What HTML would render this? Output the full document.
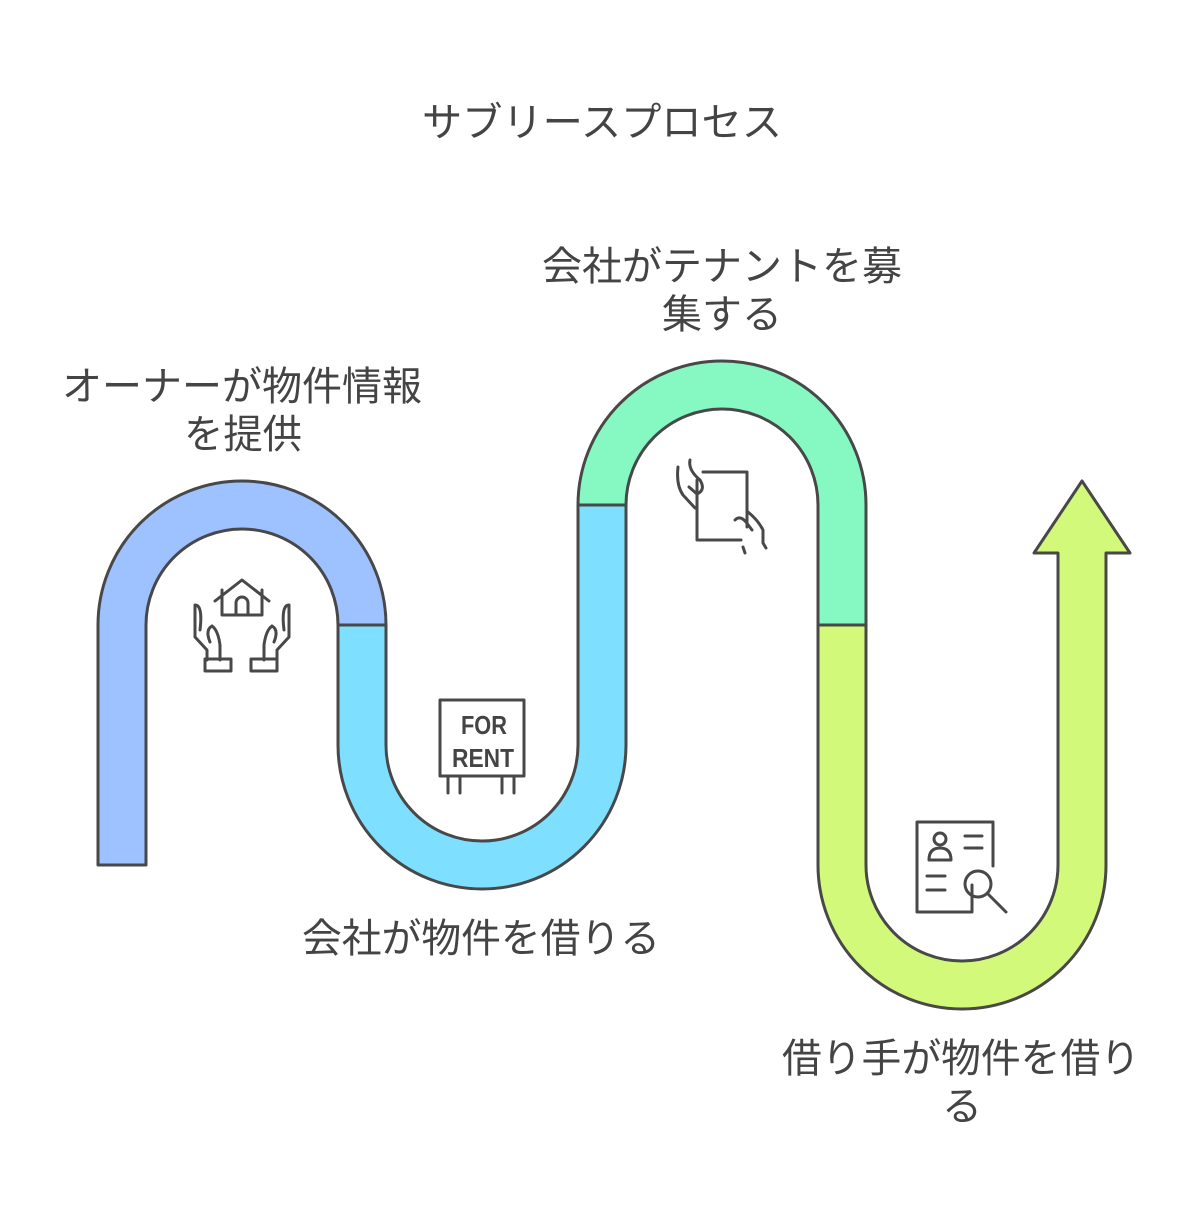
<!DOCTYPE html>
<html><head><meta charset="utf-8"><style>
body{margin:0;background:#fff;}
svg{display:block}
text{font-family:"Liberation Sans","Noto Sans CJK JP",sans-serif;fill:#444;}
</style></head><body>
<svg width="1204" height="1229" viewBox="0 0 1204 1229" xmlns="http://www.w3.org/2000/svg">
<g stroke="#484848" stroke-width="3" stroke-linejoin="round">
<path d="M98 865 L98 625 A144 144 0 0 1 386 625 L338 625 A96 96 0 0 0 146 625 L146 865 Z" fill="#9ec1ff"/>
<path d="M338 625 L386 625 L386 745 A96 96 0 0 0 578 745 L578 505 L626 505 L626 745 A144 144 0 0 1 338 745 Z" fill="#7fdfff"/>
<path d="M578 505 A144 144 0 0 1 866 505 L866 625 L818 625 L818 505 A96 96 0 0 0 626 505 Z" fill="#86f9c2"/>
<path d="M818 625 L866 625 L866 865 A96 96 0 0 0 1058 865 L1058 553 L1034 553 L1082 481 L1130 553 L1106 553 L1106 865 A144 144 0 0 1 818 865 Z" fill="#d2f97a"/>
</g>
<g fill="none" stroke="#484848" stroke-width="3" stroke-linecap="round" stroke-linejoin="round">
<path d="M215 601 L242 580 L269 601"/>
<path d="M222 590 L222 615 L262 615 L262 590"/>
<path d="M236 615 L236 603 A6 6 0 0 1 248 603 L248 615"/>
<path d="M195 605 L195 637 L207 650 L207 660 M195 605 Q203 605 200 630 M212 626 Q218 630 220 645 L220 660 M212 626 Q205 630 210 642"/>
<rect x="205" y="659" width="26" height="12"/>
<path d="M289 605 L289 637 L277 650 L277 660 M289 605 Q281 605 284 630 M272 626 Q266 630 264 645 L264 660 M272 626 Q279 630 274 642"/>
<rect x="251" y="659" width="26" height="12"/>
<rect x="440" y="700" width="84" height="76"/>
<path d="M448 776 L448 793 M460 776 L460 793 M502 776 L502 793 M514 776 L514 793"/>
<path d="M703 472 L747 472 L747 527 M741 540 L697 540 L697 480"/>
<path d="M678 467 Q676 485 683 495 L695 508 M690 460 Q688 470 700 480 Q706 490 697 494 L689 487 M748 512 Q758 520 763 530 L763 543 L766 548 M743 547 L745 553 M735 520 Q740 515 746 522 L752 530"/>
<path d="M972 885 L972 912 L917 912 L917 822 L993 822 L993 866"/>
<circle cx="940" cy="839" r="6"/>
<path d="M929 860 Q929 848 940 848 Q951 848 951 860 Z"/>
<path d="M965 836 L982 836 M965 848 L982 848 M927 876 L945 876 M927 890 L945 890"/>
<circle cx="978" cy="884" r="13"/>
<path d="M988 894 L1006 912"/>
</g>
<text x="461" y="734" font-size="26" font-weight="bold" textLength="46" lengthAdjust="spacingAndGlyphs">FOR</text>
<text x="452" y="767" font-size="26" font-weight="bold" textLength="62" lengthAdjust="spacingAndGlyphs">RENT</text>
<text x="422" y="136" font-size="40" textLength="360" lengthAdjust="spacingAndGlyphs">サブリースプロセス</text>
<text x="62" y="400" font-size="40" textLength="360" lengthAdjust="spacingAndGlyphs">オーナーが物件情報</text>
<text x="184" y="448" font-size="40" textLength="118" lengthAdjust="spacingAndGlyphs">を提供</text>
<text x="542" y="280" font-size="40" textLength="360" lengthAdjust="spacingAndGlyphs">会社がテナントを募</text>
<text x="662" y="328" font-size="40" textLength="120" lengthAdjust="spacingAndGlyphs">集する</text>
<text x="302" y="952" font-size="40" textLength="358" lengthAdjust="spacingAndGlyphs">会社が物件を借りる</text>
<text x="782" y="1072" font-size="40" textLength="358" lengthAdjust="spacingAndGlyphs">借り手が物件を借り</text>
<text x="962" y="1120" font-size="40" text-anchor="middle">る</text>
</svg>
</body></html>
